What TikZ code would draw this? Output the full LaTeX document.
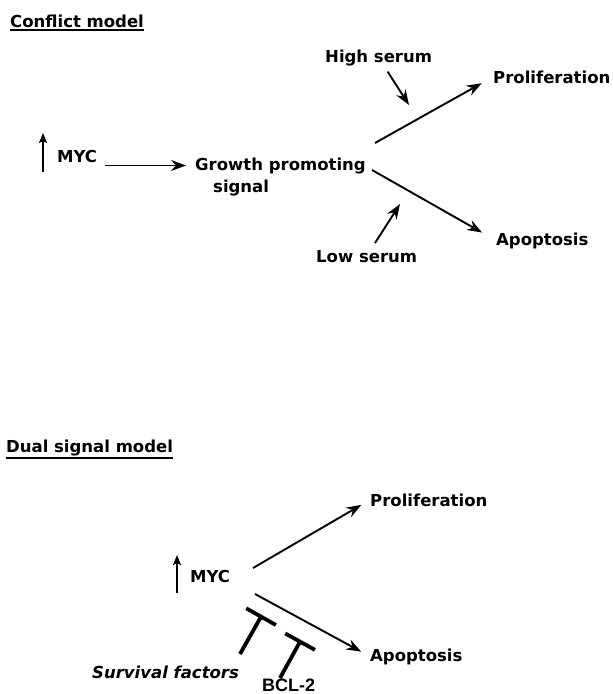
\documentclass[tikz,border=0pt]{standalone}
\usepackage{fontspec}
\setmainfont{DejaVu Sans}
\newfontfamily\bclfont{Liberation Sans}
\usepackage{tikz}
\usetikzlibrary{arrows.meta, calc}

\begin{document}
\begin{tikzpicture}[x=1pt, y=-1pt,
          lbl/.style={font=\fontsize{16.5}{18}\selectfont\bfseries, inner sep=0pt, anchor=base west},
          ttl/.style={lbl},
          uline/.style={line width=2.2pt},
          arr/.style={-{Stealth[length=15pt, width=11pt, inset=5pt]}, line width=1.9pt},
          uparr/.style={-{Stealth[length=10pt, width=8pt, inset=2pt]}, line width=2pt},
          inhib/.style={-{Bar[width=34pt]}, line width=3.8pt}
        ]
        \useasboundingbox (0,0) rectangle (613,694);

        % Conflict model
        \node[ttl] (cm) at (10,27) {Conflict model};
        \draw[uline] ([yshift=-3pt]cm.base west) -- ([yshift=-3pt]cm.base east);

        \node[lbl] (myc1) at (57,162) {MYC};
        \draw[uparr] ([xshift=-14pt,yshift=-10pt]myc1.base west) -- ++(0,-39);

        \node[lbl] (grow) at (195,170) {Growth promoting};
        \node[lbl] (sig) at (213,192) {signal};
        \draw[arr, shorten <=8pt, shorten >=9pt] (myc1.east |- grow.west) -- (grow.west);

        \node[lbl] (prol1) at (493,83) {Proliferation};
        \node[lbl] (apo1) at (496,245) {Apoptosis};
        \coordinate (up1) at (375,143);
        \coordinate (dn1) at (372,170);
        \draw[arr, shorten >=13pt] (up1) -- (prol1.west);
        \draw[arr, shorten >=16pt] (dn1) -- (apo1.west);

        % serum
        \node[lbl] (hs) at (325,62) {High serum};
        \node[lbl] (ls) at (316,262) {Low serum};
        \coordinate (hsT) at (409,105);
        \coordinate (lsT) at (400,204);
        \draw[arr, shorten <=7pt] (hs) -- (hsT);
        \draw[arr, shorten <=8pt] (ls) -- (lsT);

        % Dual signal model
        \node[ttl] (dm) at (6,452) {Dual signal model};
        \draw[uline] ([yshift=-6pt]dm.base west) -- ([yshift=-6pt]dm.base east);

        \node[lbl] (myc2) at (190,582) {MYC};
        \draw[uparr] ([xshift=-13pt,yshift=-11pt]myc2.base west) -- ++(0,-38);

        \node[lbl] (prol2) at (370,506) {Proliferation};
        \node[lbl] (apo2) at (370,661) {Apoptosis};
        \coordinate (up2) at (253,568);
        \coordinate (dn2) at (255,594);
        \draw[arr, shorten >=10pt] (up2) -- (prol2.west);
        \draw[arr, shorten >=10pt] (dn2) -- (apo2.west);

        % blockers
        \node[lbl, font=\fontsize{16.5}{18}\selectfont\bfseries\itshape] (sf) at (92,678) {Survival factors};
        \node[lbl, font=\fontsize{18}{18}\selectfont\bfseries\bclfont] (bcl) at (262,691) {BCL-2};
        \coordinate (sfS) at (240,654);
        \coordinate (sfT) at (262,615);
        \coordinate (bcS) at (280,678);
        \coordinate (bcT) at (301,640);
        \draw[inhib] (sfS) -- (sfT);
        \draw[inhib] (bcS) -- (bcT);
      \end{tikzpicture}
\end{document}
